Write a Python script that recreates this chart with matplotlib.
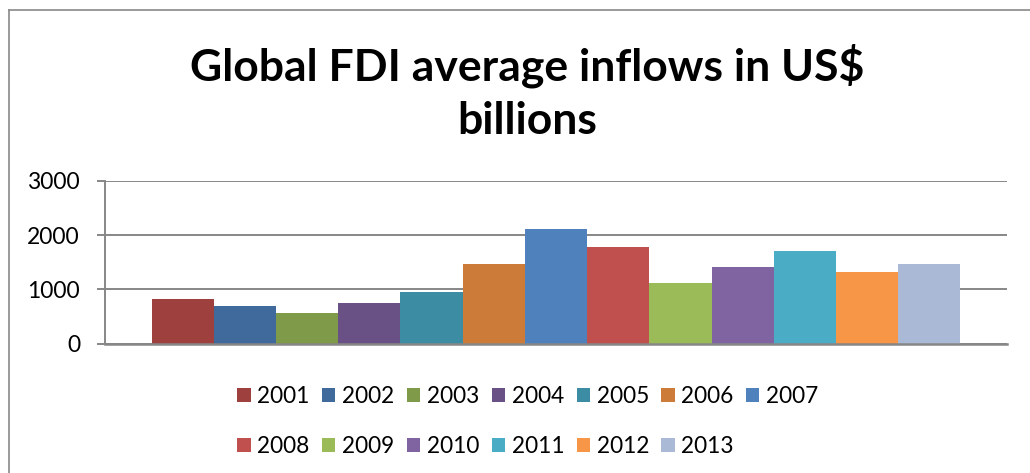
import matplotlib
matplotlib.use("Agg")
import matplotlib.pyplot as plt
from matplotlib.patches import Patch
from matplotlib.lines import Line2D

years = ["2001", "2002", "2003", "2004", "2005", "2006", "2007",
         "2008", "2009", "2010", "2011", "2012", "2013"]
inflows = [820, 690, 565, 750, 950, 1465, 2110,
           1780, 1115, 1410, 1705, 1320, 1465]
colors = ["#9E413E", "#40699C", "#7F9A48", "#695185", "#3C8DA3", "#CC7B38",
          "#4F81BD", "#C0504D", "#9BBB59", "#8064A2", "#4BACC6", "#F79646",
          "#AAB9D6"]
yticks = [0, 1000, 2000, 3000]

W, H = 1030, 473
fig = plt.figure(figsize=(W / 100, H / 100), dpi=100)
fig.patch.set_facecolor("white")
font = "Lato"
grid_c = "#878787"

ax = fig.add_axes([105 / W, 1 - 343.7 / H, (1007 - 105) / W, (343.7 - 180.7) / H])

# one category, thirteen series, Excel-style 150% gap
n = len(years)
w = 1 / (n + 1.5)
start = -0.5 + 0.75 * w
for i, (yr, v, c) in enumerate(zip(years, inflows, colors)):
    ax.bar(start + (i + 0.5) * w, v, width=w, color=c, label=yr, linewidth=0)

ax.set_xlim(-0.5, 0.5)
ax.set_ylim(0, 3000)
ax.set_yticks(yticks)
ax.set_yticklabels([str(t) for t in yticks], fontfamily=font, fontsize=16.5)
ax.set_xticks([])
ax.yaxis.grid(True, color=grid_c, linewidth=1.4)
ax.set_axisbelow(True)
for s in ["top", "right"]:
    ax.spines[s].set_visible(False)
ax.spines["left"].set_color(grid_c)
ax.spines["left"].set_linewidth(1.4)
ax.spines["bottom"].set_color(grid_c)
ax.spines["bottom"].set_linewidth(1.8)
ax.tick_params(axis="y", length=6, width=1.4, color=grid_c, pad=12, labelcolor="black")

# title
fig.text(527 / W, 1 - 80 / H, "Global FDI average inflows in US$", ha="center",
         va="baseline", fontfamily=font, fontweight="bold", fontsize=32)
fig.text(527 / W, 1 - 134 / H, "billions", ha="center",
         va="baseline", fontfamily=font, fontweight="bold", fontsize=32)

# legend, row-major order over 7 columns
handles = [Patch(facecolor=c, edgecolor="none") for c in colors]
order = []
for col in range(7):
    order.append(col)
    if col + 7 < n:
        order.append(col + 7)
fig.legend([handles[i] for i in order], [years[i] for i in order],
           ncol=7, loc="center", bbox_to_anchor=(528 / W, 1 - 421.5 / H),
           frameon=False, prop={"family": font, "size": 16.3},
           handlelength=0.58, handleheight=0.58, handletextpad=0.3,
           columnspacing=0.55, labelspacing=1.25, borderpad=0)

# chart-area border
border = dict(color="#898989", linewidth=1.2, transform=None)
fig.add_artist(Line2D([8.5, 8.5], [0, H - 10], **border))
fig.add_artist(Line2D([8.5, W], [H - 10, H - 10], **border))

fig.savefig("out.png", dpi=100)
